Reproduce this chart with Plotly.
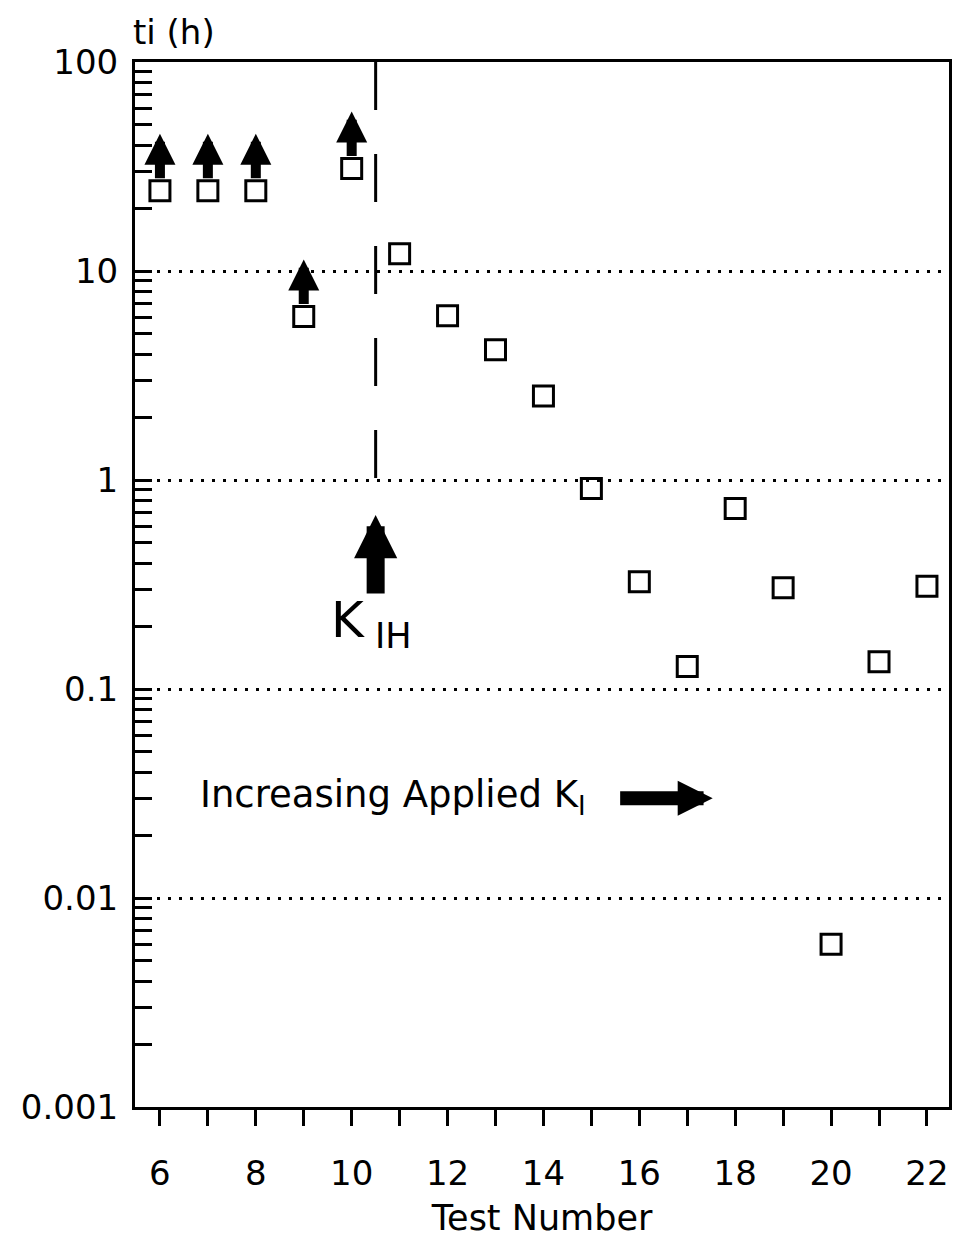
import math
import plotly.graph_objects as go

# ---------------- data ----------------
test_numbers = [6, 7, 8, 9, 10, 11, 12, 13, 14, 15, 16, 17, 18, 19, 20, 21, 22]
ti_hours = [24.2, 24.2, 24.2, 6.05, 30.9, 12.1, 6.1, 4.2, 2.52, 0.91,
            0.326, 0.128, 0.73, 0.305, 0.006, 0.135, 0.31]
# tests that did not initiate (lower-bound values, marked with up arrows)
runout_tests = [6, 7, 8, 9, 10]

kih_position = 10.5           # test-number position of K_IH boundary
kih_line_top = 100
kih_line_bottom = 1

x_major_vals = [6, 8, 10, 12, 14, 16, 18, 20, 22]
x_major_text = ["6", "8", "10", "12", "14", "16", "18", "20", "22"]
x_minor_vals = list(range(6, 23))
y_tick_vals = [0.001, 0.01, 0.1, 1, 10, 100]
y_tick_text = ["0.001", "0.01", "0.1", "1", "10", "100"]
y_minor_vals = [k * 10.0 ** e for e in range(-3, 2) for k in range(2, 10)]

X_RANGE = [5.48, 22.46]
Y_RANGE = [-3, 2]
FONT = "DejaVu Sans"

fig = go.Figure()

# dashed K_IH boundary line
fig.add_trace(go.Scatter(
    x=[kih_position, kih_position], y=[kih_line_top, kih_line_bottom],
    mode="lines", line=dict(color="black", width=3, dash="48px,44px"),
    hoverinfo="skip"))

# data points
fig.add_trace(go.Scatter(
    x=test_numbers, y=ti_hours, mode="markers",
    marker=dict(symbol="square-open", size=20, color="black",
                line=dict(width=3, color="black"))))

annotations = []
# up arrows for run-out tests
value_of = dict(zip(test_numbers, ti_hours))
for t in runout_tests:
    annotations.append(dict(
        x=t, y=math.log10(value_of[t]), xref="x", yref="y",
        text="", showarrow=True, arrowhead=2, arrowwidth=10, arrowsize=0.62,
        arrowcolor="black", ax=0, ay=46, yshift=57))

# K_IH arrow and label
annotations.append(dict(
    x=kih_position, y=math.log10(0.68), xref="x", yref="y",
    text="", showarrow=True, arrowhead=2, arrowwidth=18, arrowsize=0.48,
    arrowcolor="black", ax=0, ay=80))
annotations.append(dict(
    x=9.53, y=math.log10(0.2), xref="x", yref="y",
    text="K<sub>\u00a0IH</sub>", showarrow=False, xanchor="left",
    yanchor="middle", yshift=3,
    font=dict(family=FONT, size=50, color="black")))

# Increasing applied K_I text + arrow
annotations.append(dict(
    x=6.79, y=math.log10(0.031), xref="x", yref="y",
    text="Increasing Applied K<sub>I</sub>", showarrow=False, xanchor="left",
    yanchor="middle", yshift=-2,
    font=dict(family=FONT, size=37, color="black")))
annotations.append(dict(
    x=17.53, y=math.log10(0.030), xref="x", yref="y",
    text="", showarrow=True, arrowhead=2, arrowwidth=14, arrowsize=0.5,
    arrowcolor="black", ax=-94, ay=0))

# y-axis unit label
annotations.append(dict(
    x=0, y=1, xref="paper", yref="paper", text="ti (h)", showarrow=False,
    xanchor="left", yanchor="bottom", xshift=-4, yshift=8,
    font=dict(family=FONT, size=34, color="black")))

fig.update_layout(
    width=959, height=1245,
    margin=dict(l=135, r=7, t=62, b=138),
    plot_bgcolor="white", paper_bgcolor="white",
    showlegend=False,
    font=dict(family=FONT, size=34, color="black"),
    annotations=annotations,
    xaxis=dict(
        range=X_RANGE, autorange=False,
        tickmode="array", tickvals=x_major_vals, ticktext=x_major_text,
        ticks="outside", ticklen=16, tickwidth=3, tickcolor="black",
        minor=dict(tickmode="array", tickvals=x_minor_vals, ticks="outside",
                   ticklen=16, tickwidth=3, tickcolor="black", showgrid=False),
        showline=True, linewidth=3, linecolor="black", mirror=True,
        showgrid=False, zeroline=False,
        tickfont=dict(family=FONT, size=34, color="black"),
        ticklabelstandoff=18,
        title=dict(text="Test Number", standoff=14,
                   font=dict(family=FONT, size=35, color="black")),
    ),
    xaxis2=dict(
        overlaying="x", anchor="y", side="bottom",
        range=X_RANGE, autorange=False,
        tickmode="array", tickvals=x_minor_vals,
        ticks="inside", ticklen=18, tickwidth=3, tickcolor="black",
        showticklabels=False, showline=False, showgrid=False, zeroline=False,
    ),
    yaxis=dict(
        type="log", range=Y_RANGE, autorange=False,
        tickmode="array", tickvals=y_tick_vals, ticktext=y_tick_text,
        ticks="inside", ticklen=17, tickwidth=3, tickcolor="black",
        minor=dict(tickmode="array", tickvals=y_minor_vals, ticks="inside",
                   ticklen=17, tickwidth=3, tickcolor="black", showgrid=False),
        showgrid=True, gridcolor="black", gridwidth=3, griddash="3px,8px",
        showline=True, linewidth=3, linecolor="black", mirror=True,
        zeroline=False,
        tickfont=dict(family=FONT, size=34, color="black"),
        ticklabelstandoff=7,
    ),
    yaxis2=dict(
        overlaying="y", anchor="x", side="right",
        type="log", range=Y_RANGE, autorange=False,
        tickmode="array", tickvals=y_tick_vals,
        ticks="inside", ticklen=13, tickwidth=3, tickcolor="black",
        showticklabels=False, showline=False, showgrid=False, zeroline=False,
    ),
)

fig.write_html("out.html")
